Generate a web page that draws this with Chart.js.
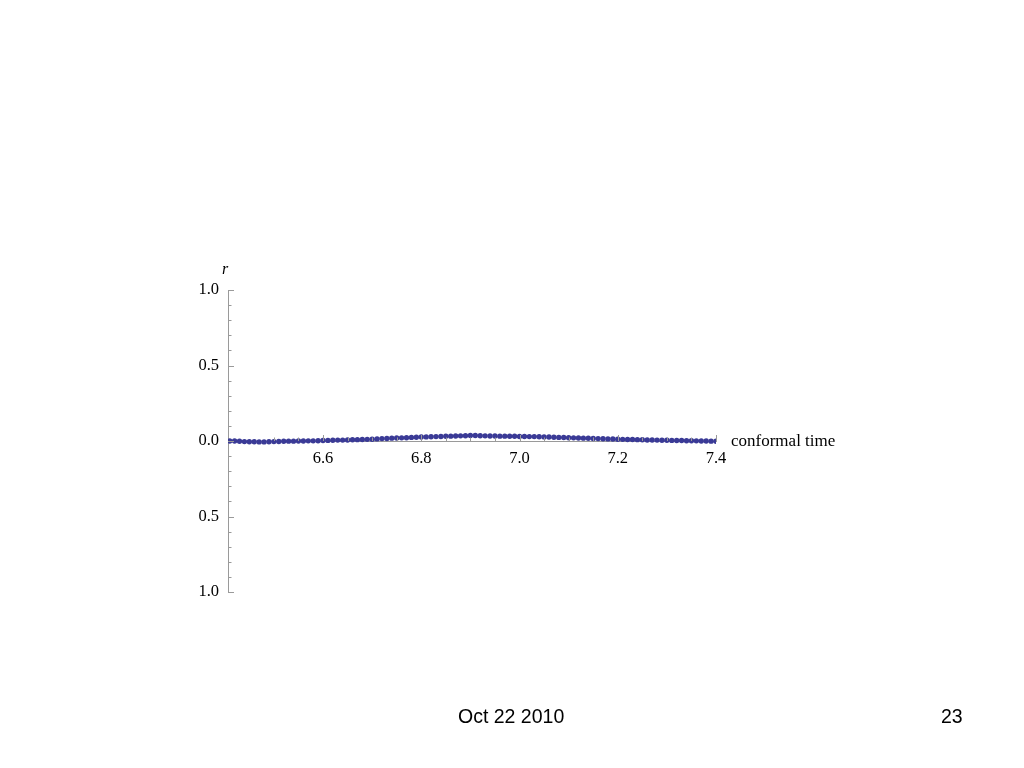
<!DOCTYPE html>
<html>
<head>
<meta charset="utf-8">
<script src="https://cdn.jsdelivr.net/npm/chart.js@4"></script>
<style>
  body { margin: 0; background: #fff; }
  #wrap { position: relative; width: 1024px; height: 768px; }
  canvas { position: absolute; left: 0; top: 0; }
  .foot { position: absolute; font-family: "Liberation Sans", Arial, sans-serif; font-size: 19.5px; color: #000; }
</style>
</head>
<body>
<div id="wrap">
  <canvas id="plot" width="1024" height="768"></canvas>
  <div class="foot" style="left:458px; top:705px;">Oct 22 2010</div>
  <div class="foot" style="left:941px; top:705px;">23</div>
</div>
<script>
// conformal time samples and r
const times = [
  6.41, 6.42, 6.43, 6.44, 6.45, 6.46, 6.47, 6.48, 6.49, 6.50,
  6.51, 6.52, 6.53, 6.54, 6.55, 6.56, 6.57, 6.58, 6.59, 6.60,
  6.61, 6.62, 6.63, 6.64, 6.65, 6.66, 6.67, 6.68, 6.69, 6.70,
  6.71, 6.72, 6.73, 6.74, 6.75, 6.76, 6.77, 6.78, 6.79, 6.80,
  6.81, 6.82, 6.83, 6.84, 6.85, 6.86, 6.87, 6.88, 6.89, 6.90,
  6.91, 6.92, 6.93, 6.94, 6.95, 6.96, 6.97, 6.98, 6.99, 7.00,
  7.01, 7.02, 7.03, 7.04, 7.05, 7.06, 7.07, 7.08, 7.09, 7.10,
  7.11, 7.12, 7.13, 7.14, 7.15, 7.16, 7.17, 7.18, 7.19, 7.20,
  7.21, 7.22, 7.23, 7.24, 7.25, 7.26, 7.27, 7.28, 7.29, 7.30,
  7.31, 7.32, 7.33, 7.34, 7.35, 7.36, 7.37, 7.38, 7.39, 7.40
];
const radius = [
  0.000, 0.000, -0.002, -0.004, -0.005, -0.005, -0.006, -0.006, -0.005, -0.004,
  -0.003, -0.002, -0.001, -0.001, 0.000, 0.000, 0.001, 0.001, 0.002, 0.003,
  0.004, 0.005, 0.006, 0.006, 0.007, 0.008, 0.009, 0.010, 0.011, 0.012,
  0.014, 0.016, 0.017, 0.019, 0.020, 0.021, 0.022, 0.024, 0.025, 0.026,
  0.027, 0.028, 0.029, 0.030, 0.031, 0.032, 0.033, 0.034, 0.035, 0.036,
  0.036, 0.035, 0.034, 0.033, 0.033, 0.032, 0.032, 0.031, 0.031, 0.030,
  0.030, 0.029, 0.029, 0.028, 0.027, 0.026, 0.025, 0.024, 0.023, 0.022,
  0.021, 0.020, 0.019, 0.018, 0.017, 0.016, 0.015, 0.014, 0.013, 0.012,
  0.011, 0.010, 0.010, 0.009, 0.008, 0.007, 0.007, 0.006, 0.005, 0.005,
  0.004, 0.003, 0.003, 0.002, 0.002, 0.001, 0.000, 0.000, -0.001, -0.002
];
const xMajor = [6.6, 6.8, 7.0, 7.2, 7.4];
const yMajor = [-1.0, -0.5, 0.0, 0.5, 1.0];

const serif = '"Liberation Serif", "Times New Roman", serif';
const axisGrey = '#9a9a9a';

// tick marks point inward like the original plot, so draw them by hand
const tickMarks = {
  id: 'tickMarks',
  afterDraw(chart) {
    const ctx = chart.ctx;
    const xs = chart.scales.x, ys = chart.scales.y;
    const x0 = ys.left + ys.width;
    const y0 = ys.getPixelForValue(0);
    ctx.save();
    ctx.strokeStyle = axisGrey;
    ctx.lineWidth = 1;
    ys.ticks.forEach(t => {
      const py = Math.round(ys.getPixelForValue(t.value)) + 0.5;
      const major = yMajor.some(m => Math.abs(m - t.value) < 1e-6);
      ctx.beginPath();
      ctx.moveTo(x0, py);
      ctx.lineTo(x0 + (major ? 6 : 3.5), py);
      ctx.stroke();
    });
    xs.ticks.forEach(t => {
      if (t.value < xs.min + 0.01) return;
      const px = Math.round(xs.getPixelForValue(t.value)) + 0.5;
      const major = xMajor.some(m => Math.abs(m - t.value) < 1e-6);
      ctx.beginPath();
      ctx.moveTo(px, y0);
      ctx.lineTo(px, y0 - (major ? 6 : 3.5));
      ctx.stroke();
    });
    ctx.fillStyle = '#000';
    ctx.font = 'italic 16px ' + serif;
    ctx.textAlign = 'left';
    ctx.textBaseline = 'middle';
    ctx.fillText('r', x0 - 6, ys.top - 20);
    ctx.font = '17px ' + serif;
    ctx.fillText('conformal time', xs.right + 15, y0 + 1);
    ctx.restore();
  }
};

new Chart(document.getElementById('plot'), {
  type: 'scatter',
  data: {
    datasets: [{
      data: times.map((t, i) => ({ x: t, y: radius[i] })),
      backgroundColor: '#3a3a96',
      borderColor: '#3a3a96',
      pointRadius: 2.7,
      pointBorderWidth: 0,
      showLine: false
    }]
  },
  options: {
    responsive: false,
    animation: false,
    layout: { padding: { left: 180, right: 308, top: 290, bottom: 176 } },
    plugins: { legend: { display: false }, tooltip: { enabled: false } },
    scales: {
      x: {
        type: 'linear',
        min: 6.4066,
        max: 7.4,
        position: { y: 0 },
        grid: { display: true, drawOnChartArea: false, drawTicks: false },
        border: { color: axisGrey, width: 1 },
        ticks: {
          stepSize: 0.05,
          autoSkip: false,
          maxRotation: 0,
          padding: 8,
          color: '#000',
          font: { family: serif, size: 16.5 },
          callback: v => xMajor.some(m => Math.abs(m - v) < 1e-6) ? v.toFixed(1) : ''
        }
      },
      y: {
        min: -1,
        max: 1,
        afterFit: s => { s.width = 48; },
        grid: { display: true, drawOnChartArea: false, drawTicks: false },
        border: { color: axisGrey, width: 1 },
        ticks: {
          stepSize: 0.1,
          autoSkip: false,
          padding: 9,
          color: '#000',
          font: { family: serif, size: 16.5 },
          callback: v => yMajor.some(m => Math.abs(m - v) < 1e-6) ? Math.abs(v).toFixed(1) : ''
        }
      }
    }
  },
  plugins: [tickMarks]
});
</script>
</body>
</html>
